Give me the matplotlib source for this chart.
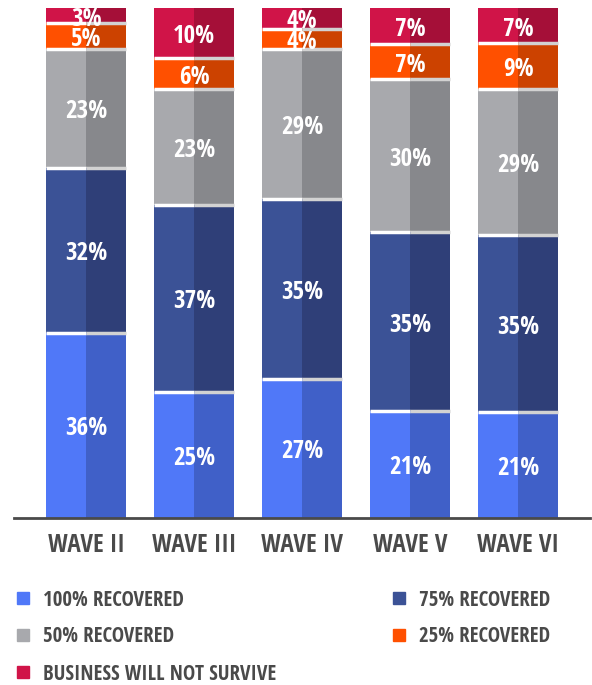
import matplotlib
matplotlib.use("Agg")
import matplotlib.pyplot as plt
from matplotlib.patches import Rectangle
import numpy as np

waves = ["WAVE II", "WAVE III", "WAVE IV", "WAVE V", "WAVE VI"]
series_names = ["100% RECOVERED", "75% RECOVERED", "50% RECOVERED", "25% RECOVERED", "BUSINESS WILL NOT SURVIVE"]
rec100 = [36, 25, 27, 21, 21]
rec75 = [32, 37, 35, 35, 35]
rec50 = [23, 23, 29, 30, 29]
rec25 = [5, 6, 4, 7, 9]
not_survive = [3, 10, 4, 7, 7]

light = ["#5078F8", "#3B5296", "#A8A9AD", "#FF5000", "#D01448"]
dark = ["#4060C8", "#2F3F78", "#87888C", "#CC4200", "#A50F38"]

plt.rcParams['font.family'] = ["Open Sans Condensed", "DejaVu Sans"]

fig = plt.figure(figsize=(5.92, 6.85), dpi=100)
ax = fig.add_axes([14/592, (685-518)/685, 576/592, (518-8)/685])

data = np.array([rec100, rec75, rec50, rec25, not_survive], dtype=float)
totals = data.sum(axis=0)
norm = data / totals * 100
x = np.arange(len(waves))
w = 0.74
bottom = np.zeros(len(waves))
for i in range(len(series_names)):
    h = norm[i]
    ax.bar(x - w/4, h, width=w/2, bottom=bottom, color=light[i], linewidth=0)
    ax.bar(x + w/4, h, width=w/2, bottom=bottom, color=dark[i], linewidth=0)
    for j in range(len(waves)):
        ax.annotate(f"{int(data[i][j])}%", (x[j], bottom[j] + h[j]/2), xytext=(0, -2.5),
                    textcoords="offset points", ha="center", va="center",
                    color="white", fontsize=18, fontweight="bold")
    top = bottom + h
    if i < len(series_names) - 1:
        for j in range(len(waves)):
            ax.plot([x[j] - w/2, x[j]], [top[j], top[j]], color="white", lw=2.5, solid_capstyle="butt")
            ax.plot([x[j], x[j] + w/2], [top[j], top[j]], color="#D2D2D2", lw=2.5, solid_capstyle="butt")
    bottom = top

ax.set_xlim(-0.667, 4.667)
ax.set_ylim(0, 100)
for s in ["top", "right", "left"]:
    ax.spines[s].set_visible(False)
ax.spines["bottom"].set_color("#4a4a4a")
ax.spines["bottom"].set_linewidth(2)
ax.set_yticks([])
ax.set_xticks(x)
ax.set_xticklabels(waves, fontsize=18, fontweight="bold", color="#4a4a4a")
ax.tick_params(axis="x", length=0, pad=11)

# legend
leg_pos = [(17, 598), (393, 598), (17, 635), (393, 635), (17, 672)]
for i, name in enumerate(series_names):
    px, py = leg_pos[i]
    fig.patches.append(Rectangle((px/592, 1 - (py + 6)/685), 12/592, 12/685,
                                 transform=fig.transFigure, color=light[i], figure=fig))
    fig.text((px + 26)/592, 1 - (py + 2)/685, name, ha="left", va="center", fontsize=15,
             fontweight="bold", color="#4a4a4a")

fig.savefig("out.png", dpi=100)
